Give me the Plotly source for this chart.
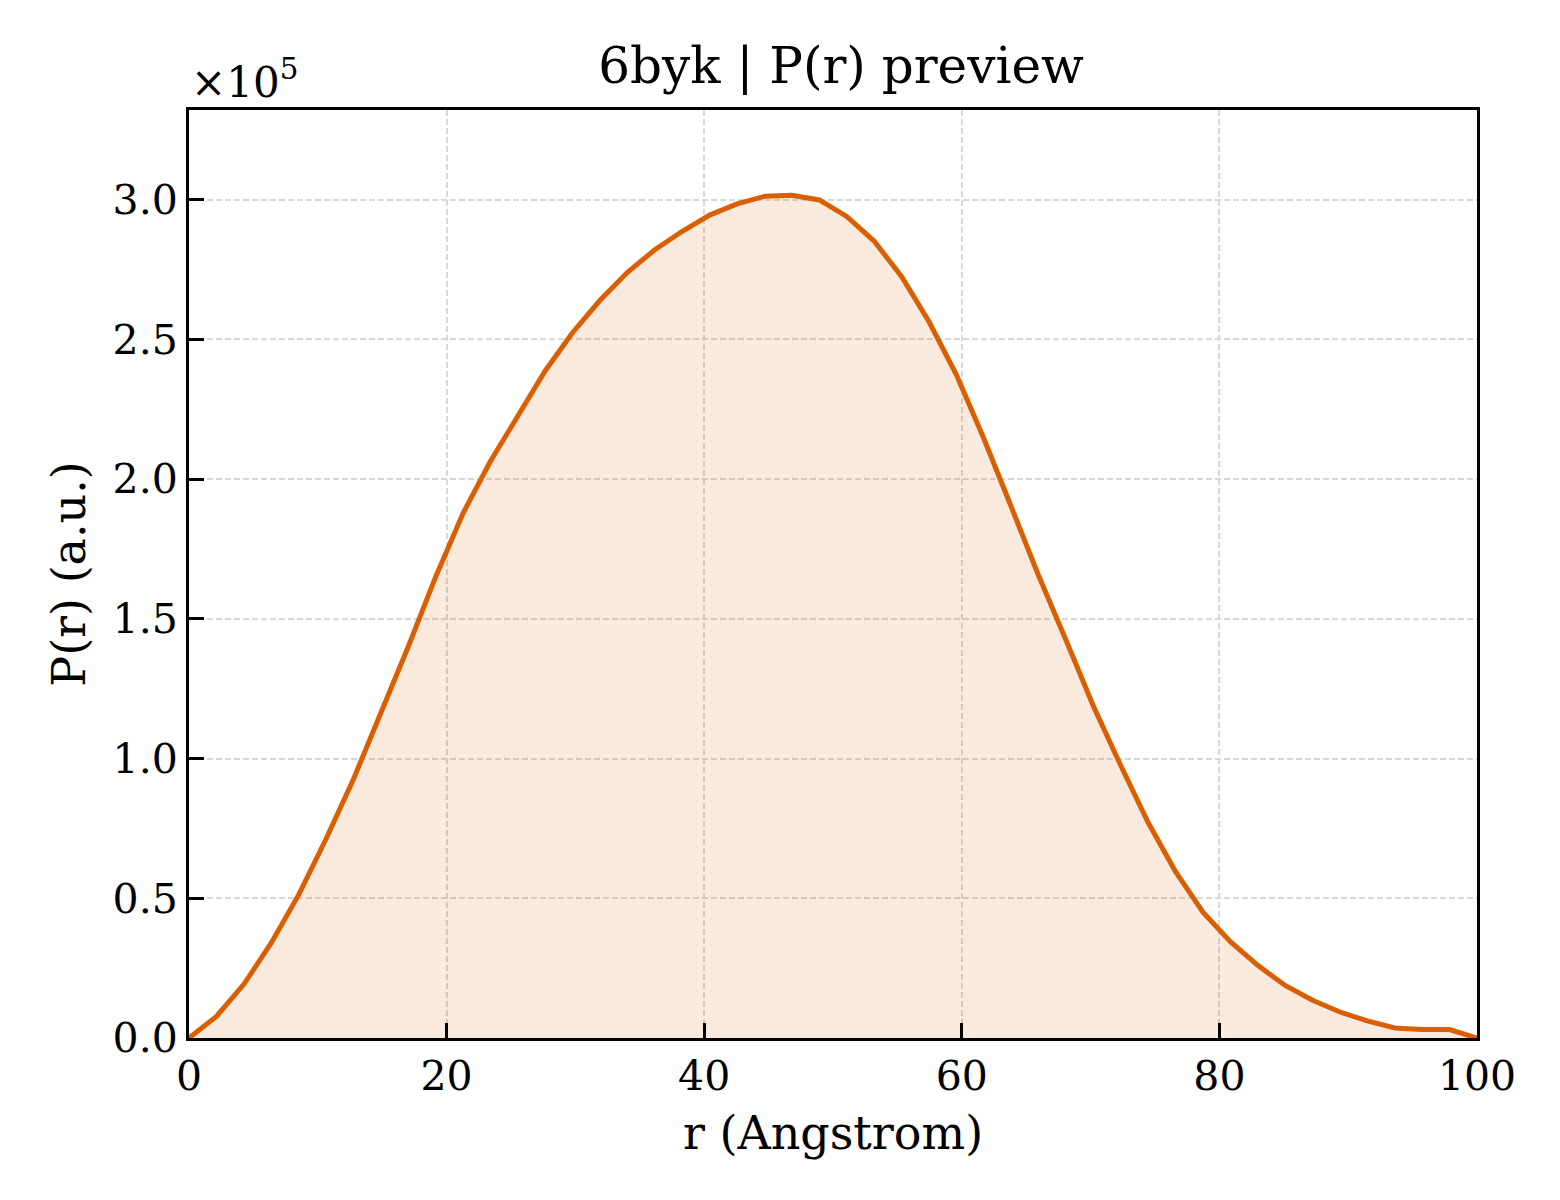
import plotly.graph_objects as go

# P(r) preview for 6byk (units of 1e5)
n_points = 48
r_max = 100.0
r = [i * r_max / (n_points - 1) for i in range(n_points)]

pr_e5 = [
    0.000, 0.077, 0.192, 0.340, 0.512, 0.712, 0.926, 1.160, 1.400, 1.650,
    1.878, 2.064, 2.228, 2.388, 2.525, 2.640, 2.740, 2.821, 2.887, 2.945,
    2.985, 3.012, 3.016, 2.999, 2.940, 2.852, 2.725, 2.564, 2.374, 2.146,
    1.902, 1.655, 1.424, 1.188, 0.975, 0.771, 0.595, 0.450, 0.345, 0.260,
    0.188, 0.135, 0.093, 0.061, 0.036, 0.030, 0.030, 0.000,
]
pr = [v * 1e5 for v in pr_e5]

ytick_vals = [0, 0.5e5, 1.0e5, 1.5e5, 2.0e5, 2.5e5, 3.0e5]
ytick_text = ["0.0", "0.5", "1.0", "1.5", "2.0", "2.5", "3.0"]
xtick_vals = [0, 20, 40, 60, 80, 100]

font = "DejaVu Serif"

trace = go.Scatter(
    x=r, y=pr, mode="lines",
    line=dict(color="#d95f02", width=5),
    fill="tozeroy", fillcolor="rgba(217,95,2,0.13)",
    showlegend=False,
)

axis_common = dict(
    showline=True, linecolor="black", linewidth=3, mirror=True,
    ticks="inside", ticklen=15, tickwidth=2.5, tickcolor="black",
    showgrid=True, gridcolor="#d8d8d8", gridwidth=1.6, griddash="6px,3px",
    zeroline=False, tickfont=dict(family=font, size=41, color="black"),
)

layout = go.Layout(
    width=1560, height=1200,
    margin=dict(l=181, r=91, t=102, b=170),
    paper_bgcolor="white", plot_bgcolor="white",
    title=dict(text="6byk | P(r) preview", x=0.534, xanchor="center",
               y=0.952, yanchor="middle",
               font=dict(family=font, size=50, color="black")),
    xaxis=dict(range=[0, 100], tickvals=xtick_vals,
               title=dict(text="r (Angstrom)", standoff=18,
                          font=dict(family=font, size=46, color="black")),
               **axis_common),
    yaxis=dict(range=[0, 3.321e5], tickvals=ytick_vals, ticktext=ytick_text,
               title=dict(text="P(r) (a.u.)", standoff=13,
                          font=dict(family=font, size=46, color="black")),
               **axis_common),
    annotations=[dict(text="×10<sup>5</sup>", xref="paper", yref="paper",
                      x=0.0, y=1.0, xanchor="left", yanchor="bottom",
                      yshift=1, showarrow=False,
                      font=dict(family=font, size=42, color="black"))],
)

fig = go.Figure(data=[trace], layout=layout)
fig.write_html("out.html")
